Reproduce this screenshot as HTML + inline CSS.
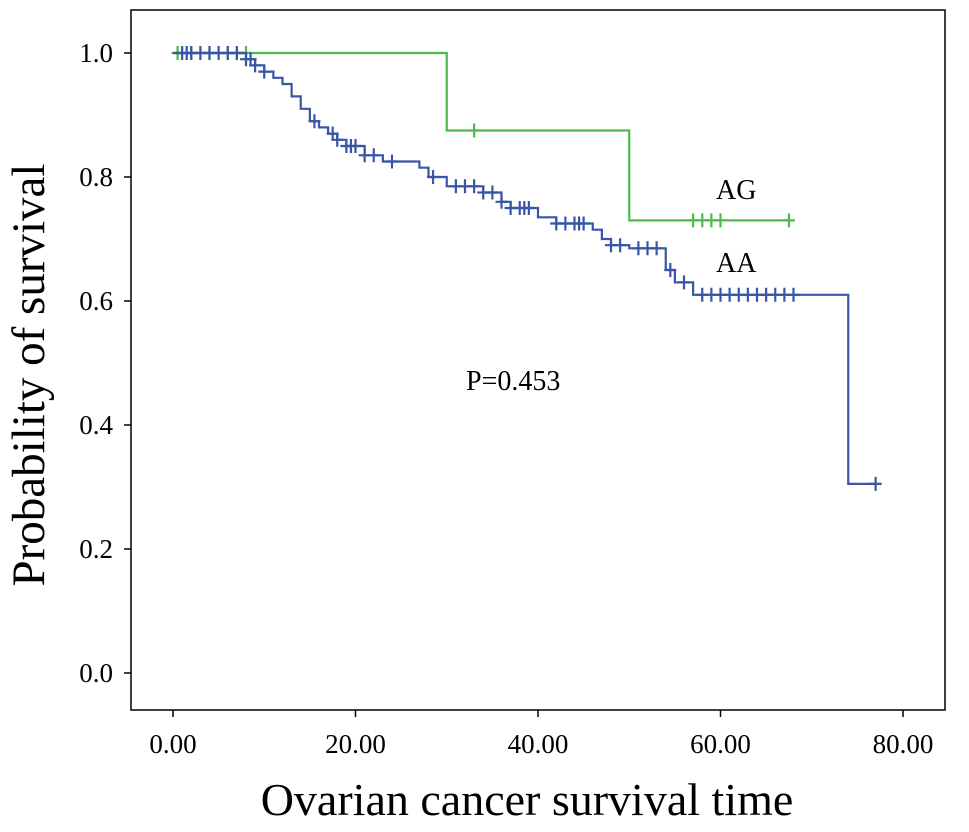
<!DOCTYPE html>
<html><head><meta charset="utf-8"><style>
body{margin:0;background:#fff}
svg text{font-family:"Liberation Serif",serif;fill:#000}
</style></head><body>
<svg id="chart" width="969" height="827">
<rect x="131" y="10" width="814" height="700" fill="#fff" stroke="#000" stroke-width="1.5"/>
<g id="axes"></g>
<g id="series"></g>
<text x="466" y="390" font-size="28">P=0.453</text>
<text x="716" y="199" font-size="28">AG</text>
<text x="716" y="272" font-size="28">AA</text>
<text x="527" y="815" font-size="46" text-anchor="middle">Ovarian cancer survival time</text>
<text transform="translate(44,375) rotate(-90)" font-size="47" text-anchor="middle">Probability of survival</text>
</svg>
<script>
const xTicks=[0,20,40,60,80];
const yTicks=[0,0.2,0.4,0.6,0.8,1.0];
const aaTimes=[0,8,9,10,11,12,13,14,15,16,17,18,19,21,23,27,28,30,34,36,37,40,42,46,47,48,50,54,55,57,74,77];
const aaSurv=[1,0.99,0.98,0.97,0.96,0.95,0.93,0.91,0.89,0.88,0.87,0.86,0.85,0.835,0.825,0.815,0.80,0.785,0.775,0.76,0.75,0.735,0.725,0.715,0.70,0.69,0.685,0.65,0.63,0.61,0.305,0.305];
const aaCensor=[1,1.5,2,3,4,5,6,7,8,8.5,9,10,15.5,17.5,18,19,19.5,20,21,22,24,28.5,31,32,33,34,35,36,37,38,38.5,39,42,43,44,44.5,45,48,49,51,52,53,54.5,56,58,59,60,61,62,63,64,65,66,67,68,77];
const agTimes=[0,30,50,67.5];
const agSurv=[1,0.875,0.73,0.73];
const agCensor=[0.5,2,4,6,7,8,33,57,58,59,60,67.5];
const X=v=>173+v*9.125, Y=v=>673-v*620;
const NS="http://www.w3.org/2000/svg";
const ax=document.getElementById('axes'), se=document.getElementById('series');
function mk(tag,attrs,parent){const e=document.createElementNS(NS,tag);for(const k in attrs)e.setAttribute(k,attrs[k]);parent.appendChild(e);return e;}
xTicks.forEach(t=>{
 const l=mk('line',{x1:X(t),x2:X(t),y1:710,y2:717,stroke:'#000','stroke-width':1.5},ax);
 
 
 const tx=mk('text',{x:X(t),y:753,'font-size':27,'text-anchor':'middle'},ax);tx.textContent=t.toFixed(2);
 
 
});
yTicks.forEach(t=>{
 const l=mk('line',{x1:124,x2:131,y1:Y(t),y2:Y(t),stroke:'#000','stroke-width':1.5},ax);
 
 
 const tx=mk('text',{x:113,y:Y(t)+9,'font-size':27,'text-anchor':'end'},ax);tx.textContent=t.toFixed(1);
 
 
});
function surv(times,s,t){let v=s[0];for(let i=0;i<times.length;i++){if(times[i]<=t)v=s[i];}return v;}
function draw(times,s,cens,color,name){
 let d=`M${X(times[0])},${Y(s[0])}`;
 for(let i=1;i<times.length;i++){d+=`H${X(times[i])}V${Y(s[i])}`;}
 const p=mk('path',{d:d,fill:'none',stroke:color,'stroke-width':2.2},se);
 
 
 cens.forEach(c=>{const x=X(c),y=Y(surv(times,s,c));
  const m=mk('path',{d:`M${x-6},${y}H${x+6}M${x},${y-7}V${y+7}`,stroke:color,'stroke-width':2.2},se);
  
  
 });
}
draw(agTimes,agSurv,agCensor,'#4cbb4c','ag');
draw(aaTimes,aaSurv,aaCensor,'#3a55a8','aa');
</script>
</body></html>
